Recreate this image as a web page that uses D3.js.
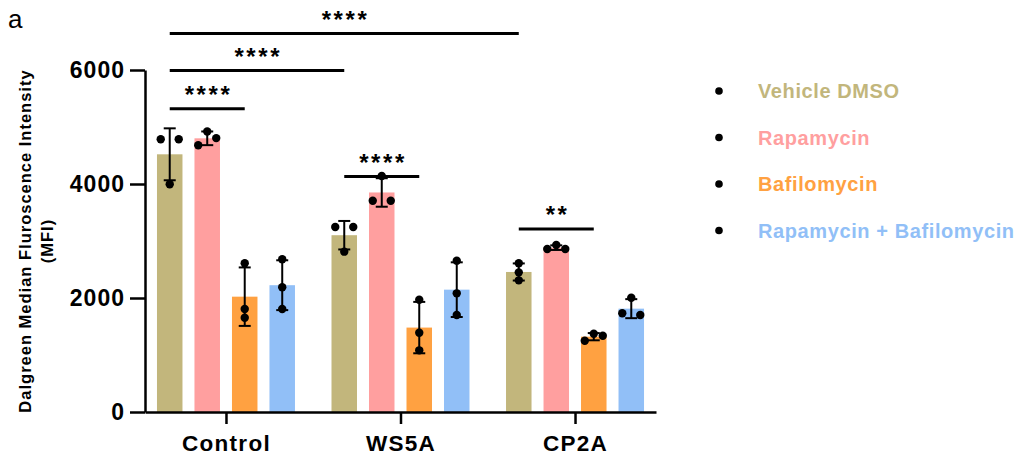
<!DOCTYPE html>
<html>
<head>
<meta charset="utf-8">
<script src="https://cdn.jsdelivr.net/npm/d3@7"></script>
<style>
  body { margin: 0; background: #fff; }
  svg { display: block; font-family: Arial, "Liberation Sans", sans-serif; }
</style>
</head>
<body>
<svg id="chart" width="1025" height="458"></svg>
<script>
// groups on the x axis and treatments inside each group
const groups = ["Control", "WS5A", "CP2A"];
const series = ["Vehicle DMSO", "Rapamycin", "Bafilomycin", "Rapamycin + Bafilomycin"];
const colors = ["#C2B67C", "#FF9F9F", "#FFA141", "#91BFF7"];
const yTicks = [0, 2000, 4000, 6000];

// replicate values (MFI), one array per group
const vehiclePts = [[4784, 4784, 3995], [3246, 3246, 2813], [2610, 2450, 2310]];
const rapaPts    = [[4920, 4805, 4680], [4140, 3707, 3707], [2930, 2860, 2860]];
const bafiloPts  = [[2609, 1807, 1654], [1970, 1391, 1082], [1374, 1339, 1251]];
const comboPts   = [[2679, 2188, 1807], [2655, 2082, 1702], [2005, 1732, 1702]];

// significance brackets: from bar, to bar, height in data units
const comparisons = [
  {g1: "Control", s1: "Vehicle DMSO", g2: "CP2A", s2: "Vehicle DMSO", level: 6640, label: "****"},
  {g1: "Control", s1: "Vehicle DMSO", g2: "WS5A", s2: "Vehicle DMSO", level: 5990, label: "****"},
  {g1: "Control", s1: "Vehicle DMSO", g2: "Control", s2: "Bafilomycin", level: 5320, label: "****"},
  {g1: "WS5A", s1: "Vehicle DMSO", g2: "WS5A", s2: "Bafilomycin", level: 4130, label: "****"},
  {g1: "CP2A", s1: "Vehicle DMSO", g2: "CP2A", s2: "Bafilomycin", level: 3210, label: "**"}
];

const allPts = [vehiclePts, rapaPts, bafiloPts, comboPts];

const rows = [];
groups.forEach((g, gi) => {
  series.forEach((s, si) => {
    const pts = allPts[si][gi];
    rows.push({group: g, series: s, color: colors[si], pts: pts,
               mean: d3.mean(pts), sd: d3.deviation(pts)});
  });
});

const svg = d3.select("#chart");

const x0 = d3.scalePoint().domain(groups).range([145, 656]).padding(0.464);
const x1 = d3.scaleBand().domain(series).range([-75, 75]).paddingInner(0.32).paddingOuter(0.16);
const y = d3.scaleLinear().domain([0, 6000]).range([412, 70]);
const color = d3.scaleOrdinal().domain(series).range(colors);

const cx = (g, s) => x0(g) + x1(s) + x1.bandwidth() / 2;

// bars
svg.append("g").selectAll("rect")
  .data(rows)
  .join("rect")
  .attr("x", d => x0(d.group) + x1(d.series))
  .attr("width", x1.bandwidth())
  .attr("y", d => y(d.mean))
  .attr("height", d => y(0) - y(d.mean))
  .attr("fill", d => d.color);

// error bars (mean ± SD)
const eb = svg.append("g").attr("stroke", "#000").attr("stroke-width", 2);
rows.forEach(d => {
  const c = cx(d.group, d.series);
  eb.append("line").attr("x1", c).attr("x2", c).attr("y1", y(d.mean + d.sd)).attr("y2", y(d.mean - d.sd));
  [d.mean + d.sd, d.mean - d.sd].forEach(v => {
    eb.append("line").attr("x1", c - 6).attr("x2", c + 6).attr("y1", y(v)).attr("y2", y(v));
  });
});

// spread points that sit too close vertically
function dodge(pts) {
  const idx = d3.range(pts.length).sort((a, b) => pts[b] - pts[a]);
  const off = new Array(pts.length).fill(0);
  const thr = 133;
  let cluster = [idx[0]];
  const flush = () => {
    const sets = {1: [0], 2: [-9, 9], 3: [0, 9, -9]};
    const o = sets[cluster.length] || cluster.map((_, i) => (i - (cluster.length - 1) / 2) * 9);
    cluster.forEach((k, i) => off[k] = o[i]);
  };
  for (let i = 1; i < idx.length; i++) {
    if (pts[idx[i - 1]] - pts[idx[i]] < thr) cluster.push(idx[i]);
    else { flush(); cluster = [idx[i]]; }
  }
  flush();
  return off;
}

const dots = svg.append("g");
rows.forEach(d => {
  const c = cx(d.group, d.series);
  const off = dodge(d.pts);
  dots.selectAll(null)
    .data(d.pts)
    .join("circle")
    .attr("cx", (v, i) => c + off[i])
    .attr("cy", v => y(v))
    .attr("r", 4.2)
    .attr("fill", "#000");
});

// y axis
const yAxis = svg.append("g")
  .attr("transform", "translate(145,0)")
  .call(d3.axisLeft(y).tickValues(yTicks).tickSize(15).tickSizeOuter(0).tickFormat(d3.format("d")));
yAxis.select(".domain").attr("stroke-width", 2.5);
yAxis.selectAll(".tick line").attr("stroke-width", 2.5);
yAxis.selectAll(".tick text")
  .attr("x", -20)
  .attr("font-size", 23)
  .attr("font-weight", "bold")
  .attr("letter-spacing", "1px")
  .attr("fill", "#000");

// x axis
const xAxis = svg.append("g")
  .attr("transform", "translate(0,412)")
  .call(d3.axisBottom(x0).tickSize(12).tickSizeOuter(0));
xAxis.select(".domain").attr("stroke-width", 2.5);
xAxis.selectAll(".tick line").attr("stroke-width", 2.5);
xAxis.selectAll(".tick text")
  .attr("y", 23)
  .attr("dy", "0.71em")
  .attr("font-size", 22.5)
  .attr("font-weight", "bold")
  .attr("letter-spacing", "1.3px")
  .attr("fill", "#000");

// y axis title
const yt = svg.append("g").attr("font-weight", "bold").attr("font-size", 16.5)
  .attr("letter-spacing", "1px").attr("text-anchor", "middle");
yt.append("text").attr("transform", "translate(25,241) rotate(-90)").attr("dy", "0.35em")
  .text("Dalgreen Median Fluroscence Intensity");
yt.append("text").attr("transform", "translate(47,241) rotate(-90)").attr("dy", "0.35em")
  .text("(MFI)");

// significance brackets
const sig = svg.append("g");
comparisons.forEach(c => {
  const xa = cx(c.g1, c.s1), xb = cx(c.g2, c.s2), ly = y(c.level);
  sig.append("line").attr("x1", xa).attr("x2", xb).attr("y1", ly).attr("y2", ly)
    .attr("stroke", "#000").attr("stroke-width", 3);
  sig.append("text")
    .attr("x", (xa + xb) / 2 + 1.3)
    .attr("y", ly - 6)
    .attr("text-anchor", "middle")
    .attr("font-size", 24)
    .attr("font-weight", "bold")
    .attr("letter-spacing", "2.6px")
    .text(c.label);
});

// legend
const legend = svg.append("g").attr("transform", "translate(719,91)");
series.forEach((s, i) => {
  const row = legend.append("g").attr("transform", `translate(0,${i * 46.5})`);
  row.append("circle").attr("r", 3.8).attr("fill", "#000");
  row.append("text").attr("x", 39).attr("dy", "0.35em")
    .attr("font-size", 20).attr("font-weight", "bold").attr("letter-spacing", "0.6px")
    .attr("fill", color(s)).text(s);
});

// panel letter
svg.append("text").attr("x", 8).attr("y", 28).attr("font-size", 26).text("a");
</script>
</body>
</html>
